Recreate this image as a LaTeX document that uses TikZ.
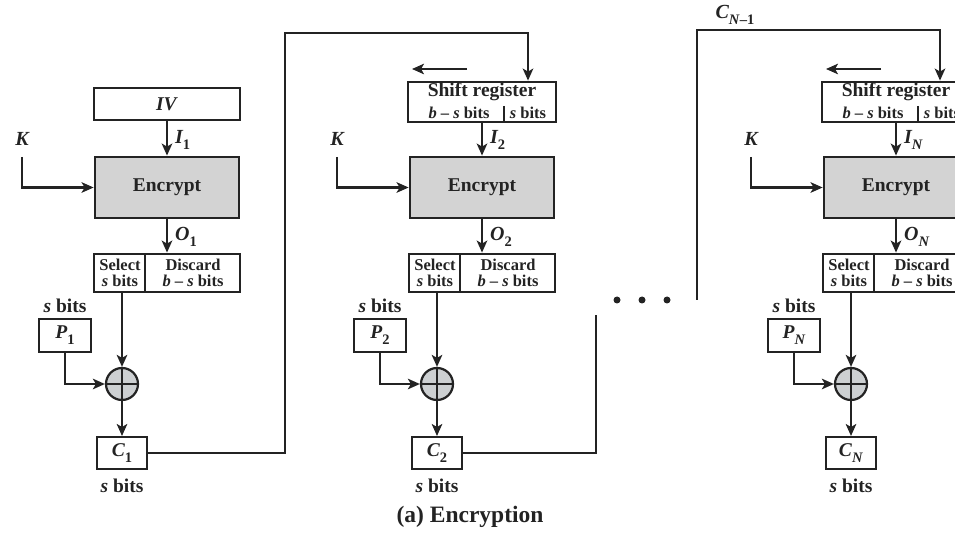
\documentclass[tikz,border=0pt]{standalone}
\usepackage{fontspec}
\setmainfont{Liberation Serif}
\usetikzlibrary{arrows.meta}
\definecolor{lc}{RGB}{35,35,35}
\definecolor{encfill}{RGB}{211,211,211}
\definecolor{xorfill}{RGB}{205,208,210}
\newcommand{\mysub}[1]{\raisebox{-0.3em}{\fontsize{14.5}{14.5}\selectfont\upshape #1}}
\begin{document}
\begin{tikzpicture}[x=1pt,y=-1pt,
  ln/.style={draw=lc, line width=2.2pt},
  arr/.style={ln, -{Stealth[length=12pt,width=10.5pt,inset=3pt]}},
  bx/.style={draw=lc, line width=2.8pt, inner sep=0pt},
  big/.style={font=\fontsize{19.5}{21}\selectfont\bfseries, text=lc},
  med/.style={font=\fontsize{16.5}{15.5}\selectfont\bfseries, text=lc, align=center, inner sep=0pt},
  lab/.style={font=\fontsize{20}{22}\selectfont\bfseries\itshape, text=lc, inner sep=0pt}]
\useasboundingbox (0,0) rectangle (955,534);
\clip (0,0) rectangle (955,534);
% input boxes
\node[bx, big, minimum width=146pt, minimum height=32pt] (top1) at (167,104) {\textit{IV}};
\foreach \cx/\nm in {482/2, 896/3} {
  \node[bx, minimum width=148pt, minimum height=40pt] (top\nm) at (\cx,102) {};
  \node[big, inner sep=0pt] (srt\nm) at (\cx,92) {Shift register};
  \node[med] (srl\nm) at (\cx-23,113) {\textit{b} – \textit{s} bits};
  \node[med] (srr\nm) at (\cx+46,113) {\textit{s} bits};
  \draw[line width=1.2pt, draw=lc] (\cx+22,106) -- (\cx+22,122);
  \coordinate (sa\nm) at (\cx-15,69);
  \coordinate (sb\nm) at (\cx-70,69);
  \draw[arr] (sa\nm) -- (sb\nm);
}
\foreach \cx/\nm/\sb in {167/1/1, 482/2/2, 896/3/{\textit{N}}} {
  \node[bx, fill=encfill, big, minimum width=144pt, minimum height=61pt] (enc\nm) at (\cx,187.5) {Encrypt};
  \draw[arr] (top\nm.south) -- (enc\nm.north);
  \node[lab, anchor=west] (i\nm) at (\cx+8,140) {I\mysub{\sb}};
  % K
  \node[lab] (k\nm) at (\cx-145,139) {K};
  \coordinate (kk\nm) at (\cx-145,157);
  \draw[arr] (kk\nm) |- (enc\nm.west);
  % select / discard
  \node[bx, minimum width=146pt, minimum height=38pt] (sd\nm) at (\cx,273) {};
  \draw[line width=1.2pt, draw=lc] (\cx-22,254) -- (\cx-22,292);
  \node[med] (sel\nm) at (\cx-47,273) {Select\\\textit{s} bits};
  \node[med] (dis\nm) at (\cx+26,273) {Discard\\\textit{b} – \textit{s} bits};
  \draw[arr] (enc\nm.south) -- (sd\nm.north);
  \node[lab, anchor=west] (o\nm) at (\cx+8,237) {O\mysub{\sb}};
  % xor
  \node[circle, draw=lc, line width=2.2pt, fill=xorfill, minimum size=32pt, inner sep=0pt] (x\nm) at (\cx-45,384) {};
  \draw[ln] (x\nm.north) -- (x\nm.south) (x\nm.west) -- (x\nm.east);
  \draw[arr] (x\nm.north |- sd\nm.south) -- (x\nm.north);
  % plaintext
  \node[bx, big, minimum width=52pt, minimum height=33pt] (p\nm) at (\cx-102,335.5) {\textit{P}\mysub{\sb}};
  \node[big, inner sep=0pt] (ps\nm) at (\cx-102,306) {\textit{s} bits};
  \draw[arr] (p\nm.south) |- (x\nm.west);
  % ciphertext
  \node[draw=lc, line width=2pt, big, minimum width=50pt, minimum height=32pt, inner sep=0pt] (c\nm) at (\cx-45,453) {\textit{C}\mysub{\sb}};
  \node[big, inner sep=0pt] (cs\nm) at (\cx-45,486) {\textit{s} bits};
  \draw[arr] (x\nm.south) -- (c\nm.north);
}
% feedback C1 -> stage 2
\coordinate (f1) at (285,33);
\draw[arr] (c1.east) -| (f1) -| ([xshift=46pt]top2.north);
% C2 line
\coordinate (e2) at (596,315);
\draw[ln] (c2.east) -| (e2);
% C_{N-1} -> stage N
\coordinate (s3) at (697,300);
\coordinate (t3) at (697,30);
\draw[arr] (s3) -- (t3) -| ([xshift=44pt]top3.north);
\node[lab] (cn) at (735,15) {C\mysub{\textit{N}–1}};
% dots
\foreach \dx/\nm in {617/1, 642/2, 667/3} {
  \node[circle, fill=lc, minimum size=7pt, inner sep=0pt] (dot\nm) at (\dx,300) {};
}
% caption
\node[font=\fontsize{23.5}{25}\selectfont\bfseries, text=lc] (cap) at (470,517) {(a) Encryption};
\end{tikzpicture}
\end{document}
